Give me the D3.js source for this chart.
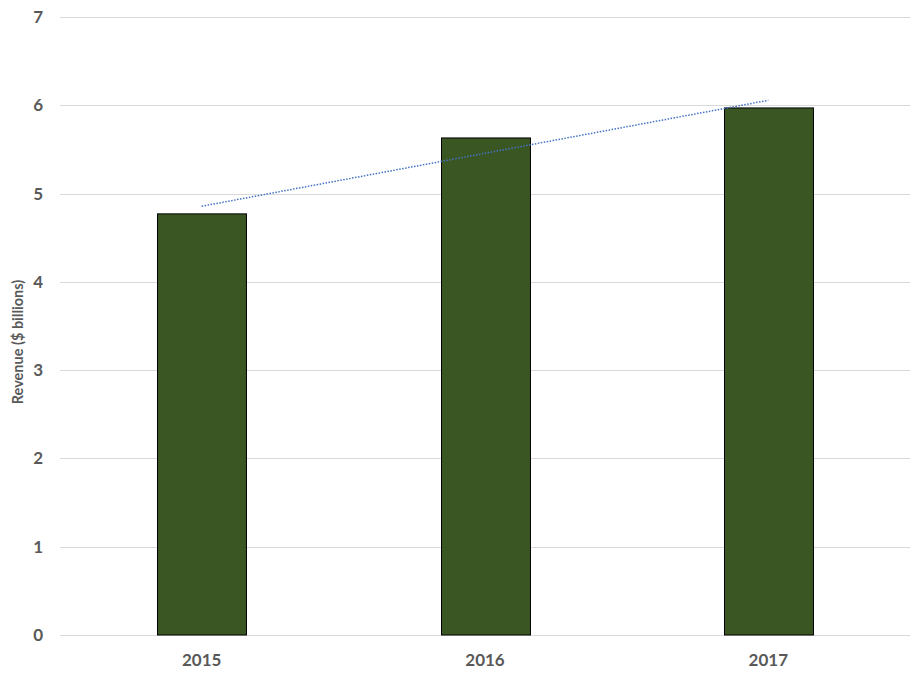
<!DOCTYPE html>
<html>
<head>
<meta charset="utf-8">
<script src="https://cdn.jsdelivr.net/npm/d3@7"></script>
<style>
  body { margin: 0; background: #fff; }
  svg { display: block; font-family: Lato, "Open Sans", sans-serif; }
</style>
</head>
<body>
<svg id="chart" width="918" height="677"></svg>
<script>
const years = ['2015', '2016', '2017']
const revenue = [4.77, 5.63, 5.97]
const yTicks = [0, 1, 2, 3, 4, 5, 6, 7]

const width = 918
const height = 677
const margin = { top: 17, right: 8, bottom: 42, left: 60 }

const svg = d3.select('#chart')

const x = d3.scaleBand()
  .domain(years)
  .range([margin.left, width - margin.right])
  .paddingInner(0.686)
  .paddingOuter(0.343)

const y = d3.scaleLinear()
  .domain([0, 7])
  .range([height - margin.bottom, margin.top])

// gridlines
svg.append('g')
  .selectAll('line')
  .data(yTicks)
  .join('line')
  .attr('x1', margin.left)
  .attr('x2', width - margin.right)
  .attr('y1', d => Math.round(y(d)) + 0.5)
  .attr('y2', d => Math.round(y(d)) + 0.5)
  .attr('stroke', '#d9d9d9')
  .attr('stroke-width', 1)

// y tick labels
svg.append('g')
  .selectAll('text')
  .data(yTicks)
  .join('text')
  .attr('x', 43)
  .attr('y', d => y(d))
  .attr('dy', '0.35em')
  .attr('text-anchor', 'end')
  .attr('font-size', 17)
  .attr('font-weight', 'bold')
  .attr('fill', '#595959')
  .text(d => d)

// x labels
svg.append('g')
  .selectAll('text')
  .data(years)
  .join('text')
  .attr('x', d => x(d) + x.bandwidth() / 2)
  .attr('y', 666)
  .attr('text-anchor', 'middle')
  .attr('font-size', 17)
  .attr('font-weight', 'bold')
  .attr('fill', '#595959')
  .text(d => d)

// axis title
svg.append('text')
  .attr('transform', 'translate(23,342) rotate(-90)')
  .attr('text-anchor', 'middle')
  .attr('font-size', 14.5)
  .attr('font-weight', 'bold')
  .attr('fill', '#595959')
  .text('Revenue ($ billions)')

// bars
svg.append('g')
  .selectAll('rect')
  .data(revenue)
  .join('rect')
  .attr('x', (d, i) => Math.round(x(years[i])) + 0.5)
  .attr('y', d => y(d))
  .attr('width', x.bandwidth())
  .attr('height', d => y(0) - y(d))
  .attr('fill', '#3a5623')
  .attr('stroke', '#000')
  .attr('stroke-width', 1)

// linear trendline (least squares over the bars)
const idx = revenue.map((d, i) => i)
const mx = d3.mean(idx)
const my = d3.mean(revenue)
const slope = d3.sum(idx, i => (i - mx) * (revenue[i] - my)) / d3.sum(idx, i => (i - mx) ** 2)
const intercept = my - slope * mx
const trend = [0, years.length - 1].map(i => [x(years[i]) + x.bandwidth() / 2, y(intercept + slope * i)])

svg.append('path')
  .attr('d', d3.line()(trend))
  .attr('fill', 'none')
  .attr('stroke', '#4472c4')
  .attr('stroke-width', 1.5)
  .attr('stroke-dasharray', '1.5,1.5')
</script>
</body>
</html>
